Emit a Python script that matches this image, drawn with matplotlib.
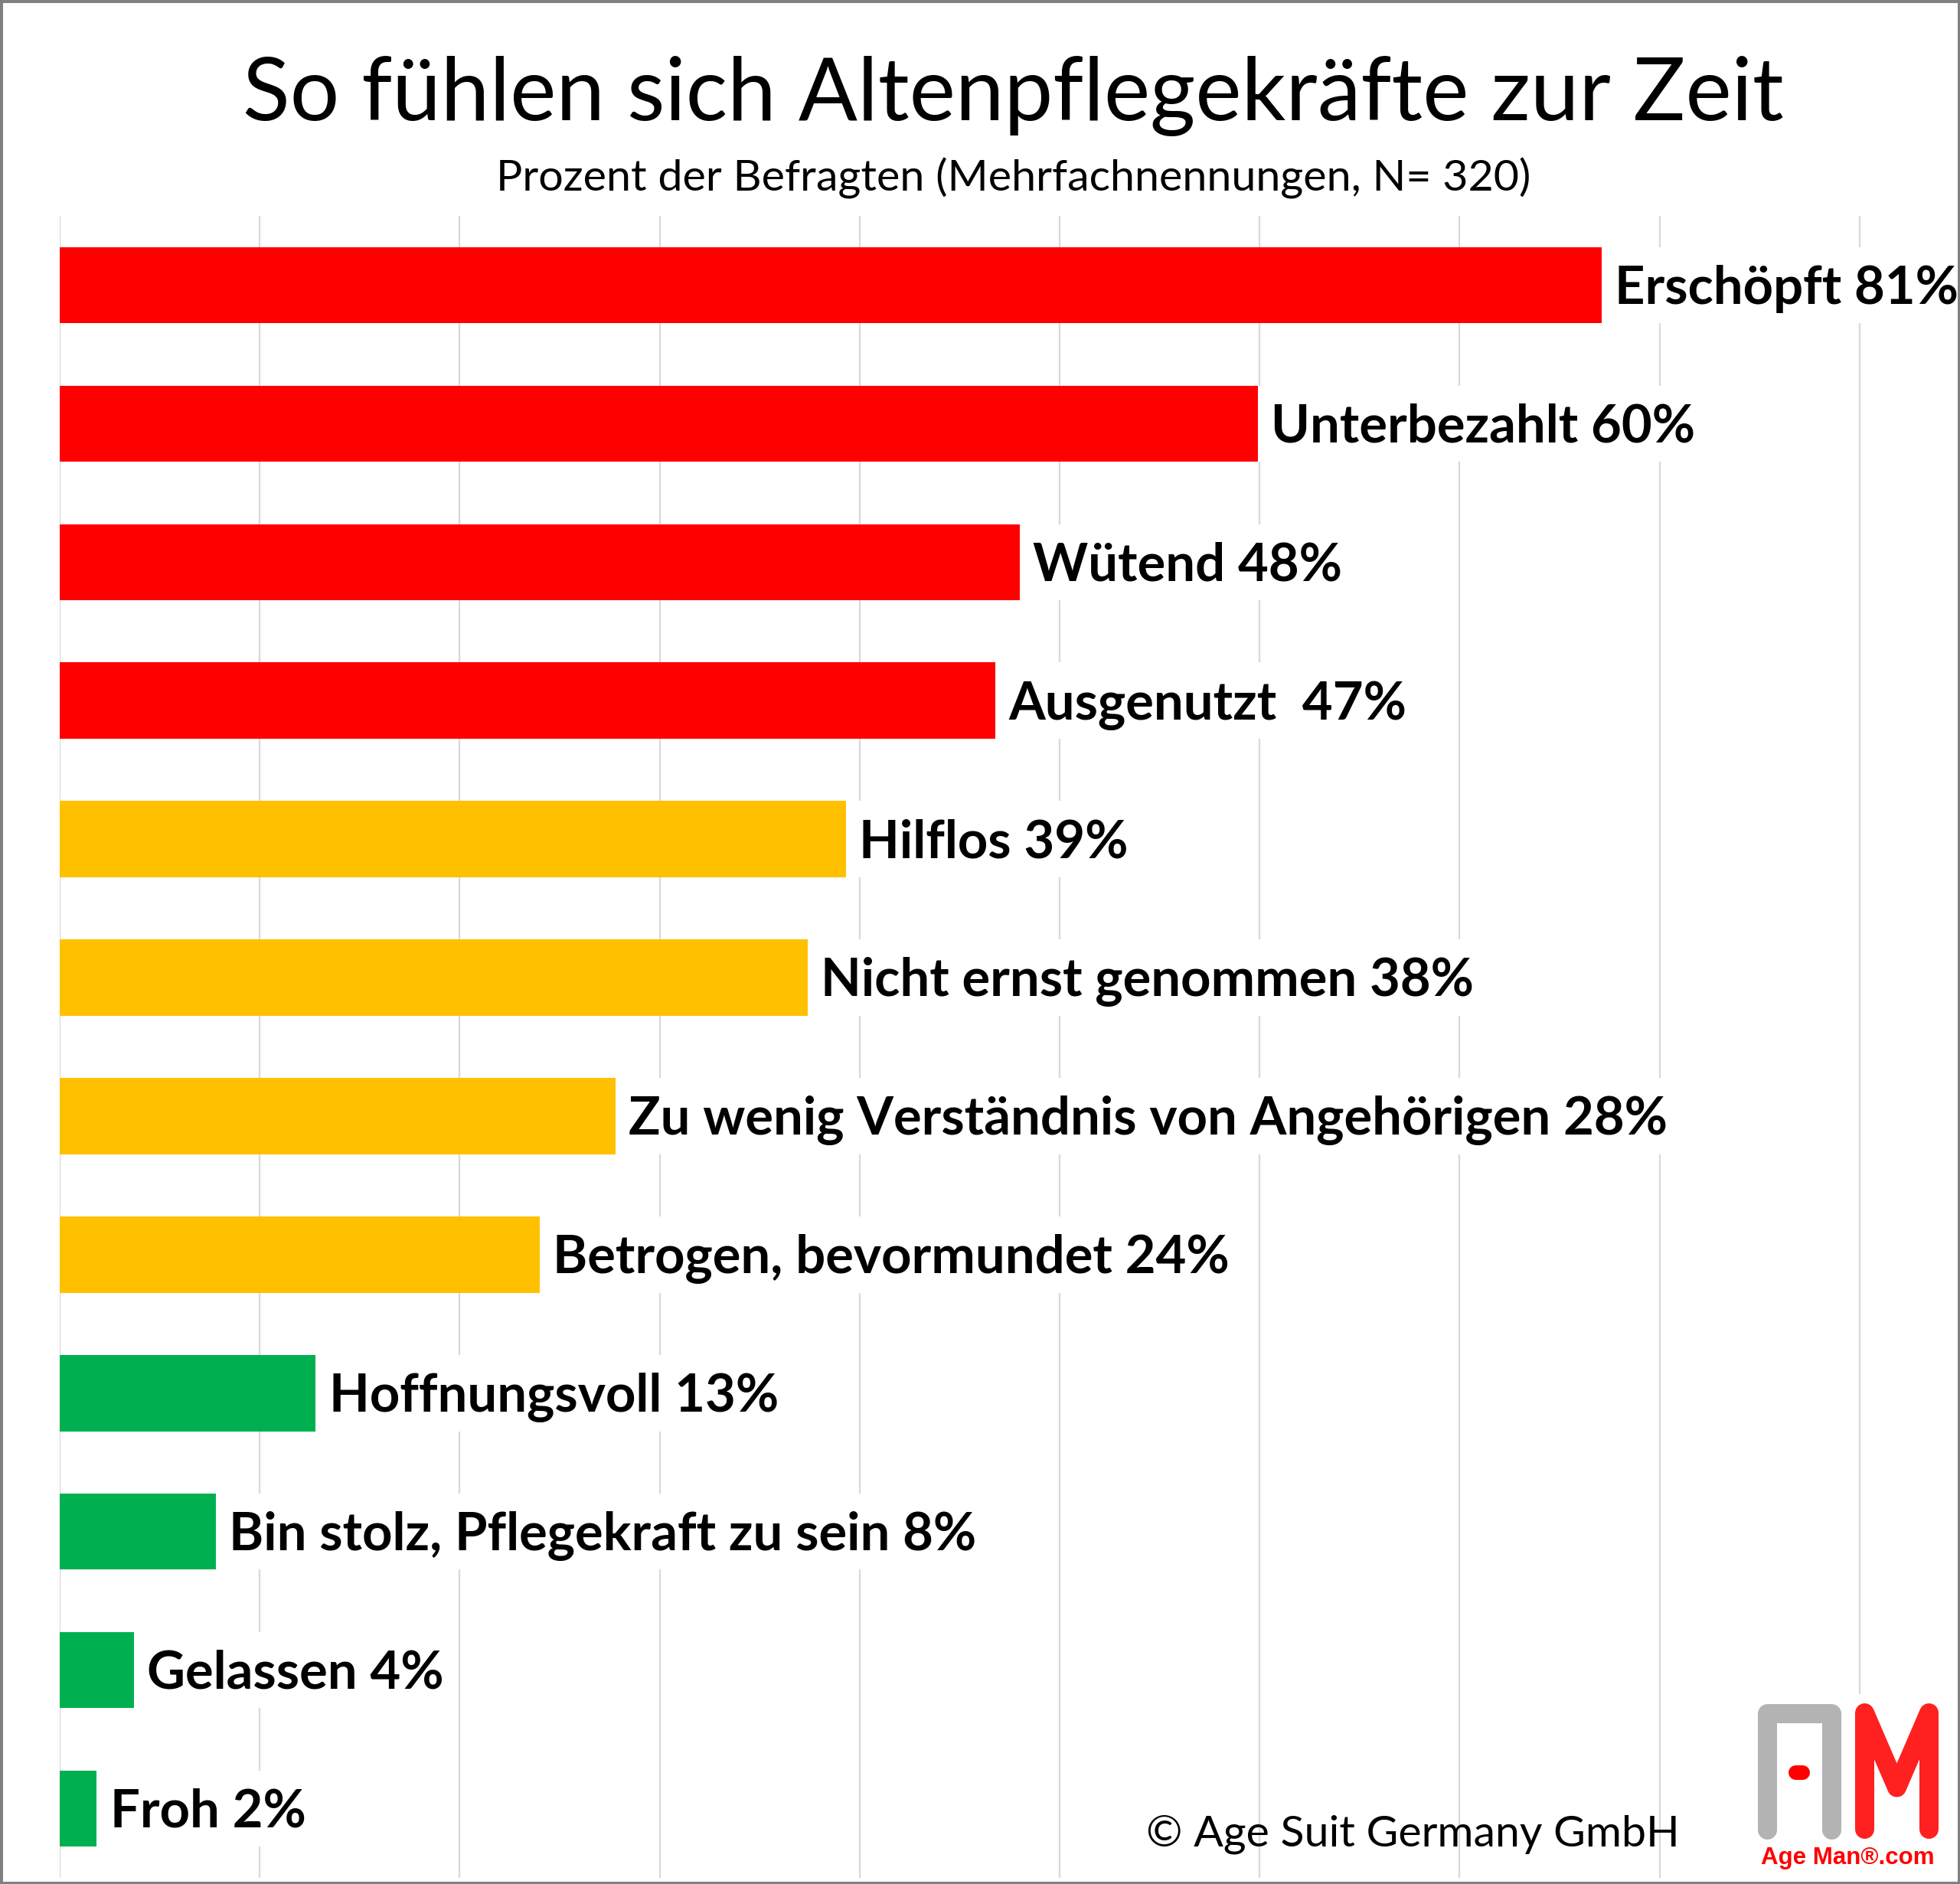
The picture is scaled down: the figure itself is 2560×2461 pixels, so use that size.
import matplotlib
matplotlib.use("Agg")
import matplotlib.pyplot as plt
from matplotlib.patches import Rectangle
from matplotlib.lines import Line2D

# feelings, top to bottom
feelings = [
    "Erschöpft", "Unterbezahlt", "Wütend", "Ausgenutzt ", "Hilflos",
    "Nicht ernst genommen", "Zu wenig Verständnis von Angehörigen",
    "Betrogen, bevormundet", "Hoffnungsvoll", "Bin stolz, Pflegekraft zu sein",
    "Gelassen", "Froh",
]
percent = [81, 60, 48, 47, 39, 38, 28, 24, 13, 8, 4, 2]
# bar lengths as drawn in the original (the top bar is shortened)
bar_len = [77.1, 59.9, 48.0, 46.8, 39.3, 37.4, 27.8, 24.0, 12.8, 7.8, 3.7, 1.85]
group = ["neg"] * 4 + ["mid"] * 4 + ["pos"] * 4
colors = {"neg": "#ff0000", "mid": "#ffc000", "pos": "#00b050"}

W, H = 2560, 2461
fig = plt.figure(figsize=(W / 100, H / 100), dpi=100)
fig.patch.set_facecolor("white")


def fx(x):
    return x / W


def fy(y):
    return 1 - y / H


ax_left, ax_top, ax_bottom = 78, 282, 2453
px_per_pct = 26.12
ax = fig.add_axes([fx(ax_left), fy(ax_bottom), 1 - fx(ax_left), (ax_bottom - ax_top) / H])
ax.set_xlim(0, (W - ax_left) / px_per_pct)
ax.set_ylim(len(feelings) - 0.5, -0.5)

ax.set_xticks(range(0, 100, 10))
ax.set_yticks([])
ax.tick_params(axis="x", length=0, labelbottom=False)
ax.grid(axis="x", color="#d9d9d9", lw=1.6)
ax.set_axisbelow(True)
for s in ax.spines.values():
    s.set_visible(False)

ypos = list(range(len(feelings)))
ax.barh(ypos, bar_len, height=0.55, color=[colors[g] for g in group], zorder=2)

texts = []
for i, (name, p, b) in enumerate(zip(feelings, percent, bar_len)):
    t = ax.annotate(f"{name} {p}%", xy=(b, i), xytext=(12.5, -17.5), textcoords="offset points",
                    ha="left", va="baseline", fontsize=49.5, fontweight="bold",
                    family="Lato", color="black", zorder=3)
    texts.append(t)

# white bands behind the labels hide the gridlines there
fig.canvas.draw()
r = fig.canvas.get_renderer()
inv = ax.transData.inverted()
for i, (t, b) in enumerate(zip(texts, bar_len)):
    bb = t.get_window_extent(r)
    x1 = inv.transform((bb.x1 + 4, 0))[0]
    ax.add_patch(Rectangle((b, i - 0.275), x1 - b, 0.55, facecolor="white",
                           edgecolor="none", zorder=1))

fig.text(fx(1323), fy(157), "So fühlen sich Altenpflegekräfte zur Zeit", ha="center",
         va="baseline", fontsize=82, family="Lato", color="black")
fig.text(fx(1324), fy(249), "Prozent der Befragten (Mehrfachnennungen, N= 320)", ha="center",
         va="baseline", fontsize=41.3, family="Lato", color="black")
fig.text(fx(1845), fy(2412), "© Age Suit Germany GmbH", ha="center", va="baseline",
         fontsize=41.2, family="Lato", color="black")

# logo
fig.add_artist(Rectangle((fx(2285), fy(2457)), (2545 - 2285) / W, (2457 - 2213) / H,
                         transform=fig.transFigure, facecolor="white", edgecolor="none",
                         zorder=4))
lw = 25 * 72 / 100
fig.add_artist(Line2D([fx(2307.5), fx(2307.5), fx(2391.5), fx(2391.5)],
                      [fy(2389.5), fy(2237.5), fy(2237.5), fy(2389.5)],
                      transform=fig.transFigure, color="#b3b3b3", lw=lw,
                      solid_capstyle="round", solid_joinstyle="round", zorder=5))
fig.add_artist(Line2D([fx(2344.5), fx(2353.5)], [fy(2314.5), fy(2314.5)],
                      transform=fig.transFigure, color="#ff0000", lw=19 * 72 / 100,
                      solid_capstyle="round", zorder=5))
fig.add_artist(Line2D([fx(2435.5), fx(2435.5), fx(2477.5), fx(2519.5), fx(2519.5)],
                      [fy(2389.5), fy(2237.5), fy(2335), fy(2237.5), fy(2389.5)],
                      transform=fig.transFigure, color="#ff2020", lw=lw,
                      solid_capstyle="round", solid_joinstyle="round", zorder=5))
fig.text(fx(2413), fy(2435), "Age Man®.com", ha="center", va="baseline", fontsize=22.5,
         fontweight="bold", family="Liberation Sans", color="#ff0000", zorder=6)

# grey frame
fig.add_artist(Rectangle((0, 0), 1, 1, transform=fig.transFigure, fill=False,
                         edgecolor="#808080", lw=5, zorder=10))

fig.savefig("out.png", dpi=100)
